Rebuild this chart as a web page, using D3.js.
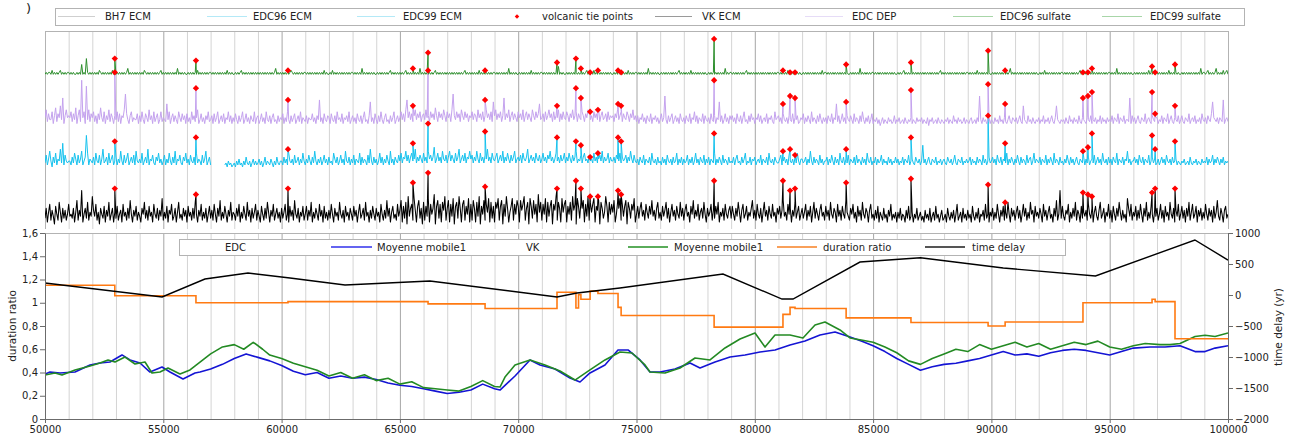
<!DOCTYPE html>
<html>
<head>
<meta charset="utf-8">
<script src="https://cdn.jsdelivr.net/npm/d3@7"></script>
<style>
  html, body { margin: 0; padding: 0; background: #fff; }
  svg { display: block; font-family: "DejaVu Sans", sans-serif; }
</style>
</head>
<body>
<svg id="chart" width="1293" height="437"></svg>
<script>
// ---------------- data ----------------
// Ice-core records on a 50-yr grid, 50000 .. 100000 yr
// (signal above each record's own baseline; one row = 1000 yr)
const vkEcm = [
  4,9,2,7,11,3,8,5,1,10,6,3,12,7,2,9,4,8,3,6,
  11,5,6,4,9,2,7,13,3,8,5,18,2,6,9,4,12,3,7,5,
  15,8,5,11,3,7,1,9,6,4,10,2,8,5,12,3,6,9,2,7,
  4,10,3,6,8,2,11,5,7,3,9,4,13,6,2,8,5,10,3,7,
  5,2,9,6,12,4,8,3,10,5,7,2,11,6,4,9,3,8,5,14,
  3,7,4,10,2,8,6,11,3,5,9,2,7,12,4,6,3,9,5,8,
  2,10,5,7,3,9,4,12,6,2,8,5,11,3,7,4,9,2,6,10,
  4,8,3,11,6,2,9,5,13,3,7,4,10,6,2,8,5,12,3,7,
  6,3,9,5,11,2,7,4,10,6,3,12,5,8,2,9,4,7,11,3,
  8,5,2,10,6,3,9,4,12,7,2,8,5,11,3,6,9,4,7,2,
  9,4,7,11,3,6,2,10,5,8,3,13,6,4,9,2,7,5,10,3,
  6,10,3,8,5,12,2,7,4,9,6,3,11,5,8,2,10,4,7,3,
  8,4,11,6,2,9,5,7,3,12,6,4,8,2,10,5,7,3,9,6,
  3,10,5,8,2,7,11,4,6,9,3,12,5,7,2,8,4,10,6,3,
  9,5,7,2,11,6,3,8,4,13,5,9,2,7,10,4,6,3,11,5,
  8,13,2,10,4,12,1,15,5,9,11,3,14,8,2,10,13,4,9,1,
  12,3,10,5,14,2,11,6,9,16,1,10,13,4,11,2,12,8,15,3,
  9,13,2,11,5,14,1,10,12,4,15,9,2,11,13,3,10,6,14,2,
  11,3,13,9,2,12,5,15,1,10,6,13,3,11,7,14,2,12,4,10,
  2,12,9,14,3,10,13,1,11,5,15,9,2,7,10,14,3,11,6,13,
  10,2,13,8,11,15,3,9,12,1,14,10,4,13,6,11,2,16,7,12,
  3,11,6,14,2,12,5,10,13,1,11,8,15,3,12,9,2,14,7,11,
  13,2,10,6,12,3,15,8,11,1,14,10,4,12,9,13,2,11,5,15,
  3,12,7,11,14,2,10,8,13,1,12,9,4,7,15,10,2,12,6,11,
  7,13,2,6,12,9,14,3,11,5,10,13,1,12,9,4,11,8,14,2,
  6,10,4,9,12,5,8,3,11,7,4,10,6,13,5,8,3,9,12,4,
  7,3,10,5,8,12,4,9,2,7,11,5,8,3,10,6,4,12,5,9,
  3,8,11,5,7,2,10,6,13,4,8,5,11,3,7,9,4,12,6,2,
  9,5,7,11,3,8,4,10,6,12,2,7,5,9,3,11,6,4,8,10,
  4,10,6,3,9,5,12,7,2,8,11,4,6,10,3,7,5,9,13,4,
  8,3,11,6,4,9,2,7,12,5,8,3,10,6,4,11,5,7,2,9,
  6,10,4,8,13,5,7,3,11,6,9,2,8,5,12,4,7,10,3,6,
  9,4,7,11,3,8,5,10,2,7,12,4,9,6,3,8,11,5,7,3,
  10,5,8,3,12,6,4,9,7,2,11,5,8,3,10,6,4,13,7,5,
  3,9,6,11,4,7,2,10,5,8,3,12,6,4,9,7,2,8,11,4,
  6,3,8,4,10,2,7,5,3,9,4,6,2,8,5,11,3,6,4,7,
  2,7,4,9,3,6,5,2,8,4,10,3,5,7,2,6,4,9,3,5,
  7,3,5,2,8,4,6,3,9,2,5,7,3,10,4,6,2,5,8,3,
  4,6,2,9,5,3,7,4,8,2,6,11,3,5,7,2,9,4,6,3,
  8,4,6,2,10,5,3,7,4,9,2,6,5,8,3,11,4,6,2,7,
  5,9,3,7,4,11,6,2,8,5,10,3,7,4,12,6,2,9,5,8,
  3,7,10,4,8,2,6,11,5,9,3,7,4,12,6,8,2,10,5,7,
  4,9,6,2,11,5,8,3,7,10,4,6,2,9,5,13,3,6,18,4,
  10,5,3,8,6,11,2,7,4,9,5,12,3,8,6,2,10,4,7,5,
  8,3,11,6,4,9,2,7,10,5,3,8,12,4,6,9,2,7,5,11,
  4,8,2,10,6,3,9,5,12,7,3,8,4,6,2,14,9,5,11,3,
  7,5,10,3,8,4,11,6,2,9,5,12,3,7,4,10,6,2,8,5,
  9,3,6,11,4,8,2,10,5,7,3,12,6,4,9,2,8,5,11,3,
  6,10,4,8,2,9,5,12,3,7,11,4,6,10,2,8,5,9,3,7,
  4,11,6,3,9,5,8,2,10,4,7,13,5,3,9,6,2,8,10,4,
  6
];

const edcEcm = [
  3,7,2,5,9,4,1,6,3,8,2,5,4,10,3,13,2,7,4,3,
  4,4,2,6,3,8,5,2,7,3,5,9,2,4,6,17,8,2,5,4,
  3,6,2,8,4,3,7,2,5,10,3,4,6,2,8,3,5,7,2,4,
  6,2,5,3,9,4,2,7,3,5,8,2,4,6,3,7,2,9,4,3,
  5,3,8,2,4,6,3,10,2,5,4,7,3,2,6,4,8,3,5,2,
  4,7,2,5,3,8,4,2,6,3,9,2,5,4,7,3,2,6,4,8,
  3,5,2,7,4,3,6,2,8,3,5,4,2,7,3,5,9,2,4,6,
  2,null,null,null,null,null,null,null,null,null,null,null,2,3,1,4,2,3,1,2,
  3,1,4,2,5,2,3,1,4,2,6,3,2,4,1,3,5,2,4,2,
  3,5,2,4,1,3,6,2,4,3,2,5,3,1,4,2,6,3,2,4,
  4,2,6,3,5,2,8,4,3,5,2,7,3,4,6,2,5,3,8,4,
  2,5,3,7,4,2,6,3,9,4,2,5,3,6,2,4,7,3,5,2,
  6,3,4,2,8,5,3,6,2,4,7,3,5,2,9,4,3,6,2,5,
  3,7,2,5,4,3,8,2,6,3,5,4,2,7,3,10,4,2,6,3,
  5,2,4,8,3,6,2,5,3,7,4,2,9,3,5,2,6,4,3,7,
  4,8,3,6,5,9,4,7,3,6,8,4,5,10,3,6,4,7,5,3,
  8,4,6,3,9,5,7,4,6,11,3,5,8,4,6,3,9,5,4,7,
  3,6,9,4,7,5,3,8,4,6,10,3,5,7,4,8,3,6,5,9,
  5,7,3,6,4,9,5,3,8,4,6,3,7,5,10,4,6,3,8,5,
  4,6,8,3,5,7,4,9,3,6,4,8,5,3,7,4,6,9,3,5,
  6,4,7,3,8,5,4,6,10,3,5,7,4,6,3,8,5,4,7,3,
  5,8,4,6,3,7,5,9,4,6,3,5,8,4,6,3,7,4,5,8,
  3,6,4,8,5,3,7,4,6,9,3,5,4,7,3,6,8,4,5,3,
  7,4,5,3,8,4,6,3,5,7,4,9,3,6,4,5,8,3,6,4,
  4,6,3,7,5,4,8,3,6,4,5,7,3,6,4,9,5,3,7,4,
  3,5,2,6,4,3,7,2,5,4,3,6,2,8,4,3,5,2,6,3,
  4,2,6,3,5,2,7,4,3,5,2,6,3,4,8,2,5,3,6,2,
  5,3,4,7,2,5,3,6,2,4,8,3,5,2,6,4,3,7,2,5,
  3,6,2,5,4,3,8,2,5,3,6,4,2,7,3,5,4,2,6,3,
  4,3,6,2,5,7,3,4,2,6,3,5,8,2,4,3,6,2,5,4,
  6,2,4,5,3,7,2,5,4,3,6,2,8,4,3,5,2,6,4,3,
  3,5,7,2,4,6,3,5,2,7,4,3,5,2,6,3,8,4,2,5,
  5,3,4,6,2,5,3,9,4,2,6,3,5,4,2,7,3,5,2,4,
  4,6,2,5,3,7,4,2,6,3,5,2,8,4,3,6,2,5,3,7,
  2,5,4,3,6,2,7,3,5,4,2,6,3,5,2,8,4,3,6,2,
  4,3,6,2,5,3,4,7,2,5,3,4,2,6,3,5,2,4,3,6,
  3,5,2,4,3,6,2,5,4,3,7,2,4,5,3,2,6,4,3,5,
  2,4,12,3,5,2,4,6,3,2,5,4,3,6,2,4,3,5,2,4,
  5,3,2,6,4,3,5,2,4,7,3,2,5,4,3,6,2,4,3,5,
  3,4,6,2,5,3,4,2,6,3,5,4,2,7,3,5,2,4,6,3,
  4,6,3,5,2,7,4,3,6,2,5,4,3,8,2,5,3,6,4,2,
  5,3,7,4,2,6,3,5,4,2,7,3,5,6,2,4,8,3,5,4,
  3,6,2,5,4,3,7,2,5,3,6,4,2,8,3,5,4,2,6,3,
  4,2,5,3,7,4,2,6,3,5,2,4,6,3,2,5,4,3,6,2,
  5,3,6,2,4,5,3,7,2,4,6,3,5,2,8,4,3,5,2,6,
  3,5,2,6,4,3,8,2,5,4,3,6,2,5,4,9,3,5,2,4,
  4,6,3,5,2,7,4,3,6,2,5,4,3,7,2,4,6,3,5,2,
  3,5,2,4,6,3,5,2,7,4,3,5,2,6,3,4,5,2,4,3,
  2,4,3,5,2,3,4,2,6,3,2,4,3,5,2,4,3,2,5,3,
  4,3,6,2,5,3,4,7,2,5,3,6,4,2,5,3,6,2,4,3,
  4
];

const edcDep = [
  6,10,4,8,5,5,9,3,7,11,4,8,6,12,5,16,3,7,10,6,
  7,6,9,4,8,5,11,3,7,10,4,25,6,9,3,22,5,10,4,8,
  6,9,4,7,3,8,5,11,6,4,9,3,7,5,10,4,8,6,3,7,
  5,9,4,8,3,7,6,10,18,8,5,3,7,9,4,6,5,5,8,3,
  7,4,9,5,3,8,6,4,10,5,7,3,9,4,6,8,3,5,9,4,
  6,5,4,13,5,9,3,6,8,4,7,5,3,9,6,4,8,5,7,3,
  8,4,6,3,9,5,7,4,6,10,3,5,8,4,6,3,7,5,9,4,
  5,7,3,8,4,6,9,3,5,7,4,8,3,6,5,9,4,7,3,6,
  4,8,5,3,7,4,6,9,3,5,8,4,6,3,7,5,4,9,3,6,
  7,3,5,8,4,6,3,9,5,4,7,3,6,8,4,5,3,7,4,6,
  5,8,3,6,4,9,5,3,7,4,6,8,3,5,7,4,9,3,6,5,
  4,7,3,6,5,5,8,4,6,3,7,5,15,4,6,3,8,5,4,7,
  6,3,8,5,4,7,3,9,5,6,4,8,3,6,5,7,4,9,3,5,
  7,4,6,3,8,5,4,7,3,6,9,4,5,3,7,14,4,6,3,8,
  5,3,7,4,9,5,3,6,8,4,5,3,7,4,6,9,3,5,7,4,
  6,9,5,8,4,10,15,6,9,5,8,4,7,10,5,8,6,9,4,7,
  8,5,10,6,7,4,9,6,8,5,11,7,4,9,6,8,5,10,7,4,
  9,6,8,4,10,18,7,5,9,6,8,4,10,7,5,9,6,8,4,7,
  6,9,5,8,7,4,10,6,8,5,9,4,7,10,6,8,5,9,4,14,
  7,10,5,8,6,9,4,7,16,5,8,6,10,4,7,9,5,8,6,4,
  9,6,8,5,10,4,7,9,5,8,6,4,10,7,5,9,6,8,13,5,
  6,8,4,9,5,7,10,6,8,4,9,5,7,6,10,4,8,5,9,6,
  5,9,7,4,8,6,10,5,7,9,4,8,6,5,9,7,4,8,6,10,
  8,5,7,4,9,6,8,5,10,4,7,9,5,6,8,4,9,5,7,6,
  7,4,8,6,10,5,7,9,4,8,6,5,9,7,4,8,6,10,5,7,
  4,7,3,6,5,8,4,6,3,7,5,4,8,3,6,5,7,4,6,3,
  5,8,4,6,17,5,3,7,4,6,8,3,5,7,4,6,3,8,5,4,
  6,3,7,5,4,8,3,6,5,9,4,7,3,6,5,4,8,3,7,5,
  4,6,3,8,5,4,7,3,6,5,14,4,7,3,5,8,4,6,3,7,
  5,7,4,6,3,8,5,4,7,3,6,9,4,5,3,7,4,8,5,6,
  3,6,5,8,4,7,3,5,6,4,8,3,6,5,7,4,3,9,5,6,
  7,4,6,3,8,5,4,6,3,7,5,4,8,3,6,5,7,3,4,6,
  5,8,3,6,4,7,5,3,9,4,6,5,3,7,4,8,5,3,6,4,
  6,3,7,5,4,8,3,6,5,13,4,7,3,5,8,4,6,3,7,5,
  4,7,5,3,8,4,6,5,3,7,4,9,5,3,6,4,7,3,5,8,
  3,5,4,6,3,5,2,4,6,3,5,4,3,6,4,5,3,4,7,3,
  5,4,6,3,4,5,3,6,4,3,5,4,6,3,5,4,3,6,4,5,
  4,6,3,5,4,3,6,2,5,4,6,3,4,5,3,6,4,3,5,4,
  3,5,4,6,3,5,4,3,7,4,5,3,6,4,5,3,4,6,3,5,
  4,3,5,6,3,4,5,3,6,4,17,5,3,6,4,5,3,4,6,3,
  5,4,3,6,4,5,3,7,4,5,3,6,4,3,5,7,4,3,6,5,
  4,6,3,5,7,4,3,12,5,4,3,7,4,5,3,6,4,3,5,4,
  6,3,5,4,7,3,5,4,6,3,5,7,4,3,6,12,5,4,3,5,
  4,5,3,6,4,3,7,4,5,3,6,4,5,3,7,4,3,6,5,4,
  3,6,5,4,7,3,5,4,6,3,5,4,7,3,6,4,5,3,6,4,
  5,4,7,3,6,5,4,8,3,6,5,4,7,3,5,5,4,16,3,7,
  4,6,3,5,7,4,3,6,5,4,8,3,5,6,4,3,7,5,4,6,
  6,3,5,4,7,3,6,5,4,8,3,5,7,4,3,6,5,4,7,3,
  5,7,4,3,6,5,4,8,3,5,6,4,7,3,5,4,6,3,8,5,
  4,6,3,7,5,4,8,14,6,5,4,6,3,6,5,4,15,3,5,6,
  4
];

const edcSulfate = [
  0,1,0,1,1,0,2,0,1,0,1,0,1,2,0,1,0,1,0,1,
  1,0,1,0,1,0,0,1,0,1,0,5,0,1,0,8,1,0,1,0,
  1,0,1,0,1,0,2,1,0,1,0,1,0,1,0,1,0,2,0,1,
  0,1,0,1,0,1,0,1,0,1,3,0,1,0,1,0,1,0,1,0,
  1,0,1,0,2,1,0,1,0,1,0,1,0,1,0,1,0,1,2,0,
  1,0,1,0,1,0,1,0,1,0,1,0,3,0,1,0,1,0,1,0,
  0,1,0,1,0,1,0,1,0,2,0,1,0,1,0,1,0,1,0,1,
  1,0,1,0,1,0,1,0,1,0,1,0,1,0,2,0,1,0,1,0,
  0,1,0,1,0,1,2,0,1,0,1,0,1,0,1,0,1,0,1,0,
  1,0,1,0,1,0,1,0,1,0,1,0,1,0,1,3,0,1,0,1,
  0,1,0,1,0,1,0,1,2,1,0,1,0,1,0,1,0,1,0,1,
  1,0,1,0,1,0,1,0,1,0,1,0,1,0,1,0,2,0,1,0,
  0,1,0,2,0,1,0,1,0,1,0,1,0,1,0,1,0,1,0,1,
  1,0,1,0,1,0,1,0,3,0,1,0,1,0,1,0,1,0,1,0,
  0,1,0,1,0,1,0,1,0,1,0,1,2,0,1,0,1,0,1,0,
  1,0,1,0,1,2,0,1,0,1,0,1,0,1,0,1,0,3,0,1,
  0,1,0,1,0,1,0,1,0,1,2,0,1,0,1,0,1,0,1,0,
  1,0,1,0,1,0,1,0,1,0,1,0,1,0,1,2,0,1,0,1,
  0,1,0,1,0,1,0,2,0,1,0,1,0,1,0,1,0,1,0,1,
  1,0,1,0,1,0,1,0,1,0,1,0,3,0,1,0,1,0,1,0,
  0,1,0,1,0,1,0,1,0,1,0,2,0,1,0,1,0,1,0,1,
  1,0,1,0,1,0,1,0,1,0,1,0,1,0,4,0,1,0,1,0,
  0,1,0,1,0,1,0,1,0,1,0,1,0,1,0,1,0,1,2,0,
  1,0,1,0,2,0,1,0,1,0,1,0,1,0,1,0,1,0,1,0,
  0,1,0,1,0,1,0,1,0,1,0,1,0,2,0,1,0,1,0,1,
  1,0,1,0,1,0,1,0,1,0,3,0,1,0,1,0,1,0,1,0,
  0,1,0,1,0,1,0,1,0,1,0,1,0,1,0,1,2,0,1,0,
  1,0,1,0,1,0,2,0,1,0,1,0,1,0,1,0,1,0,1,0,
  0,1,0,1,0,1,0,1,0,1,0,1,0,1,0,3,0,1,0,1,
  1,0,1,0,1,0,1,0,1,0,1,0,1,2,0,1,0,1,0,1,
  0,1,0,1,0,1,0,1,0,1,0,1,0,1,0,1,0,1,0,1,
  1,0,1,0,1,0,1,0,2,0,1,0,1,0,1,0,1,0,1,0,
  0,1,0,1,0,1,0,1,0,1,0,1,0,1,0,1,0,2,0,1,
  1,0,1,0,1,0,1,0,1,0,1,0,1,0,1,0,1,0,1,0,
  0,1,0,1,0,1,0,1,0,3,0,1,0,1,0,1,0,1,0,1,
  1,0,1,0,1,0,1,0,1,0,1,0,1,0,1,0,1,0,1,0,
  0,1,0,1,0,1,2,0,1,0,1,0,1,0,1,0,1,0,1,0,
  1,0,1,0,1,0,1,0,1,0,1,0,1,0,1,0,1,2,0,1,
  0,1,0,1,0,1,0,1,0,1,0,1,0,1,0,1,0,1,0,1,
  1,0,1,0,1,0,1,0,2,0,1,0,1,0,1,0,1,0,1,0,
  0,1,0,1,0,1,0,1,0,1,0,1,0,1,0,1,3,0,1,0,
  1,0,1,0,1,0,1,0,1,0,1,0,1,0,1,0,1,0,1,0,
  0,1,0,1,0,2,0,1,0,1,0,1,0,1,0,1,0,1,0,1,
  1,0,1,0,1,0,1,0,1,0,1,0,1,0,1,2,0,1,0,1,
  0,1,0,1,0,1,0,1,0,1,0,1,0,1,0,1,0,1,0,1,
  1,0,1,0,1,0,3,0,1,0,1,0,1,0,1,0,1,0,1,0,
  0,1,0,1,0,1,0,1,0,1,0,1,0,2,0,1,0,1,0,1,
  1,0,1,0,1,0,1,0,1,0,2,0,1,0,1,0,1,0,1,0,
  0,1,0,1,0,1,0,1,0,1,0,1,0,1,0,1,0,3,0,1,
  1,0,1,2,0,1,0,1,0,1,3,0,1,0,1,0,2,0,1,2,
  0
];

// Volcanic tie points (age, peak height on each record)
const tieAges = [52950, 56380, 60270, 65550, 66190, 68600, 71640, 72440, 72650, 73040, 73370, 74220, 74350,
                 78280, 81190, 81490, 81700, 83860, 86600, 89860, 90580, 93870, 94080, 94250, 96790, 96920, 97760];
const tieSulfate = [8,7,2,3,11,2,6,8,3,1,2,2,1,18,2,1,1,5,6,12,2,1,1,3,4,1,5];
const tieDep     = [29,21,15,12,30,15,12,21,16,9,10,13,12,25,13,17,16,14,20,23,13,16,17,19,19,8,12];
const tieEdcEcm  = [14,16,10,13,23,19,16,14,12,6,8,16,14,18,9,10,7,10,16,27,13,9,11,18,17,10,14];
const tieVkEcm   = [19,16,19,22,27,20,19,23,19,15,15,18,16,23,23,18,19,22,24,21,12,17,16,15,17,19,19];

// Stacking offsets of the four records
const stackOffset = { vk: 1, ecm: 30, dep: 50, sulfate: 78 };

// Moving averages of annual-layer duration
const edcMaAges = [50000,50211,50634,51268,51902,52325,52747,53254,53593,54015,54438,54945,55283,55833,56340,56551,
  57000,57500,58000,58500,59000,59500,60000,60500,61000,61500,62000,62500,63000,63500,64000,64500,65000,65500,
  66000,66500,67000,67500,68000,68500,69000,69231,69865,70499,70921,71555,72189,72612,73034,73668,74218,74641,
  75148,75571,75993,76627,77261,77684,78318,78952,79586,80220,80854,81488,82122,82756,83390,84024,84500,85000,
  85500,86000,86500,87000,87500,88000,88500,89000,89500,90000,90500,91000,91500,92000,92500,93000,93500,94000,
  94500,95000,95500,96000,96704,97338,97972,98606,99029,99452,100000];
const edcMovingAvg = [0.387,0.404,0.396,0.404,0.465,0.482,0.490,0.551,0.508,0.482,0.404,0.447,0.404,0.344,0.396,0.404,
  0.43,0.47,0.52,0.56,0.53,0.50,0.46,0.41,0.38,0.40,0.35,0.37,0.35,0.36,0.34,0.31,0.29,0.28,
  0.26,0.24,0.22,0.23,0.25,0.30,0.26,0.249,0.370,0.508,0.465,0.430,0.353,0.318,0.396,0.465,0.594,0.594,
  0.508,0.404,0.404,0.430,0.482,0.439,0.490,0.533,0.551,0.576,0.594,0.637,0.671,0.723,0.748,0.705,0.67,0.63,
  0.58,0.52,0.47,0.42,0.45,0.47,0.48,0.50,0.52,0.55,0.58,0.55,0.56,0.54,0.57,0.59,0.60,0.59,
  0.57,0.55,0.58,0.61,0.62,0.62,0.63,0.58,0.58,0.61,0.63];

const vkMaAges = [50000,50423,50719,51268,51902,52325,52663,52959,53381,53804,54227,54522,54861,55199,55706,56129,56551,
  57000,57500,58000,58400,58800,59200,59500,60000,60500,61000,61500,62000,62500,63000,63500,64000,64500,65000,
  65500,66000,66500,67000,67500,68000,68500,69000,69231,69442,69865,70499,71133,71767,72401,73034,73668,74302,
  74810,75359,75571,76205,76839,77473,78107,78741,79375,80009,80432,80854,81488,82037,82545,82967,83601,84024,
  84500,85000,85500,86000,86500,87000,87500,88000,88500,89000,89500,90000,90500,91000,91500,92000,92500,93000,
  93500,94000,94500,95000,95500,96000,96500,97126,97549,97972,98606,99029,99452,100000];
const vkMovingAvg = [0.378,0.396,0.378,0.422,0.456,0.482,0.508,0.490,0.533,0.473,0.490,0.396,0.404,0.439,0.387,0.422,0.490,
  0.56,0.62,0.64,0.60,0.66,0.60,0.55,0.52,0.48,0.45,0.42,0.37,0.40,0.35,0.38,0.33,0.35,0.30,
  0.32,0.27,0.26,0.25,0.24,0.28,0.33,0.28,0.275,0.361,0.465,0.508,0.465,0.413,0.335,0.422,0.508,0.576,
  0.568,0.465,0.404,0.396,0.439,0.525,0.508,0.611,0.688,0.740,0.619,0.723,0.723,0.697,0.809,0.834,0.766,0.697,
  0.68,0.66,0.62,0.57,0.50,0.47,0.52,0.56,0.60,0.58,0.64,0.60,0.63,0.66,0.62,0.65,0.60,0.63,
  0.66,0.64,0.67,0.62,0.60,0.63,0.65,0.64,0.64,0.65,0.71,0.72,0.71,0.74];

// Duration ratio between tie points (step function)
const ratioAges   = [50000, 52950, 56380, 60270, 66190, 68600, 71640, 72440, 72550, 72650, 73040, 73370, 74220, 74350,
                     78280, 81190, 81490, 81700, 83860, 86600, 89860, 90580, 93870, 96790, 96920, 97760, 100000];
const ratioValues = [1.15, 1.06, 1.00, 1.01, 0.99, 0.95, 1.09, 0.955, 1.07, 1.03, 1.10, 1.08, 0.96, 0.89,
                     0.79, 0.90, 0.96, 0.95, 0.87, 0.83, 0.80, 0.835, 1.00, 1.03, 1.01, 0.69, 0.69];

// Time delay (yr)
const delayAges   = [50000, 54950, 56760, 58580, 60355, 62680, 66270, 71640, 72485, 74300, 78655, 81150, 81615,
                     84445, 87000, 90500, 94400, 98600, 100000];
const delayValues = [193, -32, 258, 355, 274, 161, 226, -32, 32, 113, 339, -65, -65, 532, 600, 435, 306, 887, 564];

// Axis ticks
const ratioTicks = [0, 0.2, 0.4, 0.6, 0.8, 1, 1.2, 1.4, 1.6];
const delayTicks = [-2000, -1500, -1000, -500, 0, 500, 1000];
const ageTicks = d3.range(50000, 100001, 5000);
const gridYears = d3.range(50000, 100001, 1000);

// ---------------- layout ----------------
const svg = d3.select("#chart");
const L = 45, R = 1228;
const topY0 = 31, topY1 = 229;
const botY0 = 233, botY1 = 419;

const x = d3.scaleLinear().domain([50000, 100000]).range([L, R]);
const yStack = d3.scaleLinear().domain([0, 100]).range([228, 31]);
const yRatio = d3.scaleLinear().domain([0, 1.6]).range([botY1, botY0]);
const yDelay = d3.scaleLinear().domain([-2000, 1000]).range([botY1, botY0]);

svg.append("rect").attr("width", 1293).attr("height", 437).attr("fill", "#fff");

// panel label fragment in the corner
svg.append("text").attr("x", 26).attr("y", 13).attr("font-size", 13).attr("fill", "#222").text(")");

const defs = svg.append("defs");
defs.append("clipPath").attr("id", "clipTop").append("rect")
  .attr("x", L).attr("y", topY0).attr("width", R - L).attr("height", topY1 - topY0);
defs.append("clipPath").attr("id", "clipBot").append("rect")
  .attr("x", L).attr("y", botY0 - 2).attr("width", R - L).attr("height", botY1 - botY0 + 2);

// ---- vertical grid, both panels ----
function grid(y0, y1) {
  svg.append("g").selectAll("line").data(gridYears).join("line")
    .attr("x1", d => x(d) + 0.5).attr("x2", d => x(d) + 0.5)
    .attr("y1", y0).attr("y2", y1)
    .attr("stroke", d => d % 5000 === 0 ? "#a6a6a6" : "#d4d4d4")
    .attr("stroke-width", 1);
}
grid(topY0, topY1);
grid(botY0, botY1);

// top panel frame
svg.append("line").attr("x1", L).attr("x2", R).attr("y1", topY0 + 0.5).attr("y2", topY0 + 0.5).attr("stroke", "#b3b3b3");
svg.append("line").attr("x1", L + 0.5).attr("x2", L + 0.5).attr("y1", topY0).attr("y2", topY1).attr("stroke", "#b3b3b3");
svg.append("line").attr("x1", R + 0.5).attr("x2", R + 0.5).attr("y1", topY0).attr("y2", topY1).attr("stroke", "#b3b3b3");

// ---- stacked ice-core records ----
function trackPoints(signal, ties) {
  const n = signal.length;
  const step = 50000 / (n - 1);
  const pts = signal.map((v, i) => ({ a: 50000 + i * step, v: v == null ? null : v }));
  tieAges.forEach((a, j) => { if (ties[j] != null) pts.push({ a, v: ties[j] }); });
  return pts.sort((p, q) => p.a - q.a);
}
const tracks = [
  { key: "vk", signal: vkEcm, ties: tieVkEcm, color: "#000000", w: 1.05 },
  { key: "ecm", signal: edcEcm, ties: tieEdcEcm, color: "#16c2ee", w: 1 },
  { key: "dep", signal: edcDep, ties: tieDep, color: "#c4a2ee", w: 1 },
  { key: "sulfate", signal: edcSulfate, ties: tieSulfate, color: "#2e8f2e", w: 1 }
];
const topG = svg.append("g").attr("clip-path", "url(#clipTop)");
tracks.forEach(t => {
  const base = stackOffset[t.key];
  const line = d3.line().defined(d => d.v != null)
    .x(d => x(d.a)).y(d => yStack(base + d.v));
  topG.append("path").datum(trackPoints(t.signal, t.ties))
    .attr("d", line).attr("fill", "none")
    .attr("stroke", t.color).attr("stroke-width", t.w).attr("stroke-linejoin", "round");
});
const diamond = d3.symbol(d3.symbolSquare, 20)();
tracks.forEach(t => {
  const base = stackOffset[t.key];
  topG.append("g").selectAll("path")
    .data(tieAges.map((a, j) => ({ a, v: t.ties[j] })).filter(d => d.v != null))
    .join("path")
    .attr("d", diamond)
    .attr("transform", d => `translate(${x(d.a)},${yStack(base + d.v)}) rotate(45)`)
    .attr("fill", "#ff0000");
});

// ---- lower panel ----
svg.append("line").attr("x1", L).attr("x2", R).attr("y1", botY0 + 0.5).attr("y2", botY0 + 0.5).attr("stroke", "#b3b3b3");

const botG = svg.append("g").attr("clip-path", "url(#clipBot)");
function maLine(ages) {
  return d3.line().x((d, i) => x(ages[i])).y(d => yRatio(d));
}
botG.append("path").datum(edcMovingAvg).attr("d", maLine(edcMaAges))
  .attr("fill", "none").attr("stroke", "#1414d4").attr("stroke-width", 1.6).attr("stroke-linejoin", "round");
botG.append("path").datum(vkMovingAvg).attr("d", maLine(vkMaAges))
  .attr("fill", "none").attr("stroke", "#238a23").attr("stroke-width", 1.6).attr("stroke-linejoin", "round");

const ratioLine = d3.line().x((d, i) => x(ratioAges[i])).y(d => yRatio(d)).curve(d3.curveStepAfter);
botG.append("path").datum(ratioValues).attr("d", ratioLine)
  .attr("fill", "none").attr("stroke", "#ff7a12").attr("stroke-width", 1.6);

const delayLine = d3.line().x((d, i) => x(delayAges[i])).y(d => yDelay(d));
botG.append("path").datum(delayValues).attr("d", delayLine)
  .attr("fill", "none").attr("stroke", "#000").attr("stroke-width", 1.4);

// axes
function styleAxis(g) {
  g.selectAll(".domain").attr("stroke", "#6b6b6b");
  g.selectAll(".tick line").attr("stroke", "#6b6b6b");
  g.selectAll(".tick text").attr("fill", "#222").attr("font-size", 10)
    .attr("font-family", "DejaVu Sans, sans-serif");
}
const fmtRatio = d => String(Math.round(d * 10) / 10).replace(".", ",");
svg.append("g").attr("transform", `translate(${L},0)`)
  .call(d3.axisLeft(yRatio).tickValues(ratioTicks).tickFormat(fmtRatio).tickSize(5).tickPadding(2).tickSizeOuter(0))
  .call(styleAxis);
svg.append("g").attr("transform", `translate(${R},0)`)
  .call(d3.axisRight(yDelay).tickValues(delayTicks).tickFormat(d3.format("d")).tickSize(5).tickPadding(2).tickSizeOuter(0))
  .call(styleAxis);
svg.append("g").attr("transform", `translate(0,${botY1})`)
  .call(d3.axisBottom(x).tickValues(ageTicks).tickFormat(d3.format("d")).tickSize(4).tickPadding(3).tickSizeOuter(0))
  .call(styleAxis);

svg.append("text").attr("transform", `translate(16,326) rotate(-90)`)
  .attr("text-anchor", "middle").attr("font-size", 10.5).attr("fill", "#222").text("duration ratio");
svg.append("text").attr("transform", `translate(1282,327) rotate(-90)`)
  .attr("text-anchor", "middle").attr("font-size", 10.5).attr("fill", "#222").text("time delay (yr)");

// ---- legends ----
function legend(box, items, cy) {
  const g = svg.append("g");
  g.append("rect").attr("x", box[0] + 0.5).attr("y", box[1] + 0.5)
    .attr("width", box[2] - box[0]).attr("height", box[3] - box[1])
    .attr("fill", "#fff").attr("stroke", "#b3b3b3");
  items.forEach(it => {
    if (it.marker) {
      g.append("path").attr("d", d3.symbol(d3.symbolSquare, 10)())
        .attr("transform", `translate(${it.x1},${cy}) rotate(45)`).attr("fill", "#ff0000");
    } else if (it.color) {
      g.append("line").attr("x1", it.x1).attr("x2", it.x2).attr("y1", cy).attr("y2", cy)
        .attr("stroke", it.color).attr("stroke-width", it.w || 1);
    }
    g.append("text").attr("x", it.tx).attr("y", cy).attr("dy", "0.35em")
      .attr("font-size", 10).attr("fill", "#222").text(it.label);
  });
}
legend([55, 8, 1244, 25], [
  { label: "BH7 ECM", x1: 58, x2: 95, tx: 105, color: "#cfcfcf" },
  { label: "EDC96 ECM", x1: 207, x2: 247, tx: 253, color: "#b4e9f7" },
  { label: "EDC99 ECM", x1: 357, x2: 395, tx: 403, color: "#b4e9f7" },
  { label: "volcanic tie points", x1: 517, tx: 542, marker: true },
  { label: "VK ECM", x1: 655, x2: 692, tx: 702, color: "#9a9a9a" },
  { label: "EDC DEP", x1: 805, x2: 843, tx: 852, color: "#e6dcf7" },
  { label: "EDC96 sulfate", x1: 953, x2: 993, tx: 1000, color: "#a8d6a8" },
  { label: "EDC99 sulfate", x1: 1102, x2: 1142, tx: 1150, color: "#a8d6a8" }
], 16.5);
legend([179, 239, 1065, 255], [
  { label: "EDC", tx: 225 },
  { label: "Moyenne mobile1", x1: 331, x2: 372, tx: 377, color: "#6464f0", w: 2 },
  { label: "VK", tx: 526 },
  { label: "Moyenne mobile1", x1: 628, x2: 668, tx: 674, color: "#5aac5a", w: 2 },
  { label: "duration ratio", x1: 777, x2: 817, tx: 823, color: "#f9a05a", w: 2 },
  { label: "time delay", x1: 925, x2: 965, tx: 972, color: "#555555", w: 2 }
], 247);
</script>
</body>
</html>
